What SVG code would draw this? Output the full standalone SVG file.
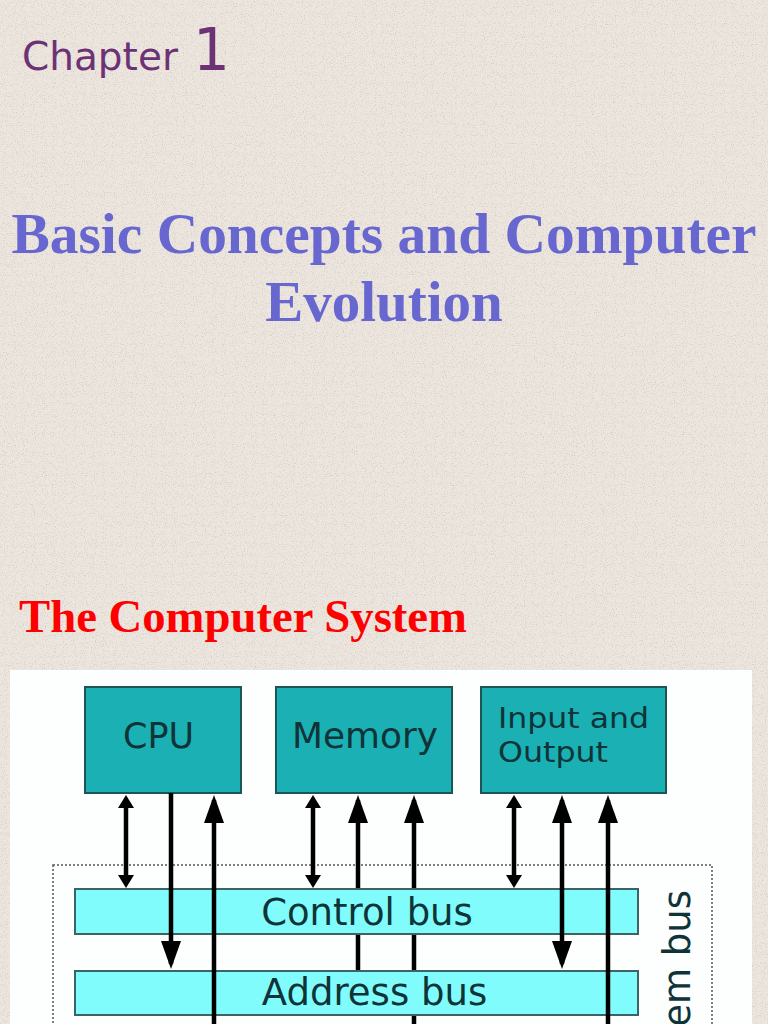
<svg xmlns="http://www.w3.org/2000/svg" width="768" height="1024" viewBox="0 0 768 1024">
  <style>
    .chap { font-family: "DejaVu Sans", "Liberation Sans", sans-serif; fill: #6d3275; }
    .title { font-family: "Liberation Serif", "Times New Roman", serif; font-weight: bold; fill: #6767cf; font-size: 57px; text-anchor: middle; }
    .sub { font-family: "Liberation Serif", "Times New Roman", serif; font-weight: bold; fill: #ff0000; font-size: 46px; }
    .box { fill: #1bb0b4; stroke: #1d5555; stroke-width: 2; }
    .bus { fill: #80fcfc; stroke: #3c6464; stroke-width: 2; }
    .lbl { font-family: "DejaVu Sans", "Liberation Sans", sans-serif; fill: #0f3438; }
    .wire { fill: none; stroke: #000; stroke-width: 4.5; }
  </style>
  <defs>
    <filter id="paper" x="0" y="0" width="100%" height="100%">
      <feTurbulence type="fractalNoise" baseFrequency="0.9" numOctaves="2" seed="7"/>
      <feColorMatrix values="0 0 0 0 0.55  0 0 0 0 0.5  0 0 0 0 0.45  0 0 0 3 -1.55"/>
    </filter>
    <marker id="hs" viewBox="0 0 13 16" markerWidth="13" markerHeight="16" refX="8" refY="8" markerUnits="userSpaceOnUse" orient="auto-start-reverse">
      <path d="M0,0 L13,8 L0,16 z" fill="#000"/>
    </marker>
    <marker id="hb" viewBox="0 0 28 20" markerWidth="28" markerHeight="20" refX="23" refY="10" markerUnits="userSpaceOnUse" orient="auto-start-reverse">
      <path d="M0,0 L28,10 L0,20 z" fill="#000"/>
    </marker>
  </defs>

  <rect x="0" y="0" width="768" height="1024" fill="#ece6df"/>
  <rect x="0" y="0" width="768" height="1024" filter="url(#paper)" opacity="0.6"/>

  <text class="chap" x="22" y="70" font-size="39">Chapter</text>
  <text class="chap" x="193" y="70" font-size="58">1</text>

  <text class="title" x="384" y="253" textLength="745" lengthAdjust="spacingAndGlyphs">Basic Concepts and Computer</text>
  <text class="title" x="384" y="321">Evolution</text>

  <text class="sub" x="19" y="632" textLength="448" lengthAdjust="spacingAndGlyphs">The Computer System</text>

  <rect x="10" y="670" width="742" height="360" fill="#fdfefe"/>

  <rect x="53" y="865" width="659" height="200" fill="none" stroke="#555" stroke-width="1.5" stroke-dasharray="2,2"/>

  <g id="connectors-back">
    <path class="wire" d="M358,971 V800" marker-end="url(#hb)"/>
    <path class="wire" d="M414,1030 V800" marker-end="url(#hb)"/>
  </g>

  <g id="control-bus">
    <rect class="bus" x="75" y="889" width="563" height="45"/>
    <text class="lbl" x="367" y="925" font-size="37" text-anchor="middle">Control bus</text>
  </g>
  <g id="address-bus">
    <rect class="bus" x="75" y="971" width="563" height="44"/>
    <text class="lbl" x="374.5" y="1005" font-size="37" text-anchor="middle">Address bus</text>
  </g>

  <g id="system-bus">
    <text class="lbl" transform="translate(690,890) rotate(-90)" font-size="37" text-anchor="end">System bus</text>
  </g>

  <g id="cpu">
    <rect class="box" x="85" y="687" width="156" height="106"/>
    <text class="lbl" x="158.5" y="748" font-size="35" text-anchor="middle" textLength="71" lengthAdjust="spacingAndGlyphs">CPU</text>
  </g>
  <g id="memory">
    <rect class="box" x="276" y="687" width="176" height="106"/>
    <text class="lbl" x="365" y="748" font-size="35" text-anchor="middle" textLength="146" lengthAdjust="spacingAndGlyphs">Memory</text>
  </g>
  <g id="io">
    <rect class="box" x="481" y="687" width="185" height="106"/>
    <text class="lbl" x="498" y="728" font-size="28" textLength="151" lengthAdjust="spacingAndGlyphs">Input and</text>
    <text class="lbl" x="498" y="762" font-size="28" textLength="110" lengthAdjust="spacingAndGlyphs">Output</text>
  </g>

  <g id="connectors">
    <path class="wire" d="M126,800 V883" marker-start="url(#hs)" marker-end="url(#hs)"/>
    <path class="wire" d="M171,793 V964" marker-end="url(#hb)"/>
    <path class="wire" d="M214,1030 V800" marker-end="url(#hb)"/>
    <path class="wire" d="M313,800 V883" marker-start="url(#hs)" marker-end="url(#hs)"/>
    <path class="wire" d="M514,800 V883" marker-start="url(#hs)" marker-end="url(#hs)"/>
    <path class="wire" d="M562,800 V964" marker-start="url(#hb)" marker-end="url(#hb)"/>
    <path class="wire" d="M608,1030 V800" marker-end="url(#hb)"/>
  </g>
</svg>
